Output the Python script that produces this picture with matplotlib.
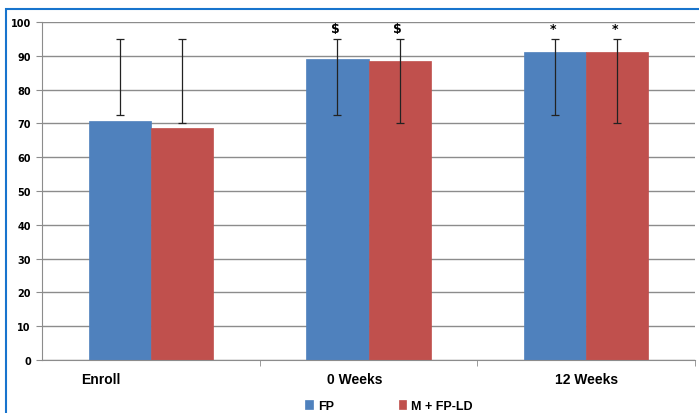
import matplotlib.pyplot as plt
import matplotlib.patches as mpatches
import matplotlib.transforms as mtransforms
import numpy as np

categories = ["Enroll", "0 Weeks", "12 Weeks"]
series_names = ["FP", "M + FP-LD"]
fp_values = [70.8, 89.2, 91.2]
mfp_values = [68.5, 88.5, 91.2]
# error bar ends (lower, upper)
fp_err_low = [72.5, 72.5, 72.5]
fp_err_high = [94.9, 94.9, 94.9]
mfp_err_low = [70.2, 70.2, 70.2]
mfp_err_high = [94.9, 94.9, 94.9]
fp_marks = ["", "$", "*"]
mfp_marks = ["", "$", "*"]

blue = "#4F81BD"
red = "#C0504D"
grid_col = "#8C8C8C"

fig = plt.figure(figsize=(6.99, 4.14), dpi=100)
ax = fig.add_axes([42/699, 1-361/414, 653/699, 338/414])

x = np.arange(len(categories))
w = 0.285

def draw(offset, vals, lo, hi, color, marks, label):
    lo = np.array(lo)
    hi = np.array(hi)
    ax.bar(x + offset, vals, w, color=color, edgecolor=color, linewidth=0.5,
           label=label, zorder=2)
    # error bars drawn from lower end to upper end
    ax.errorbar(x + offset, lo, yerr=[np.zeros_like(lo), hi - lo], fmt="none",
                ecolor="#222222", elinewidth=0.9, capsize=3, capthick=0.9, zorder=3)
    for xi, h, m in zip(x + offset, hi, marks):
        if m:
            ax.text(xi - 0.01, h + 3.3, m, ha="center", va="center",
                    fontsize=9, fontweight="bold", family="DejaVu Sans", zorder=4)

draw(-w/2, fp_values, fp_err_low, fp_err_high, blue, fp_marks, series_names[0])
draw(w/2, mfp_values, mfp_err_low, mfp_err_high, red, mfp_marks, series_names[1])

ax.set_xlim(-0.5, 2.5)
ax.set_ylim(0, 100)
ax.set_yticks(range(0, 101, 10))
ax.yaxis.grid(True, color=grid_col, linewidth=1)
ax.set_axisbelow(True)
for s in ["top", "right"]:
    ax.spines[s].set_visible(False)
for s in ["left", "bottom"]:
    ax.spines[s].set_color(grid_col)

# category labels, set a bit left of their groups like in the original
ax.set_xticks(x)
ax.set_xticklabels([])
label_shift = [-36, -10, 0]
base = mtransforms.blended_transform_factory(ax.transData, ax.transAxes)
for xi, cat, dx in zip(x, categories, label_shift):
    tr = base + mtransforms.ScaledTranslation(dx/72, -14/72, fig.dpi_scale_trans)
    ax.text(xi, 0, cat, transform=tr, ha="center", va="center", fontsize=10,
            fontweight="bold", family="Liberation Sans")
ax.set_xticks([0.5, 1.5, 2.5], minor=True)
ax.tick_params(axis="x", which="major", length=0)
ax.tick_params(axis="x", which="minor", length=4, color=grid_col, direction="out")
ax.tick_params(axis="y", length=4, color=grid_col, pad=4, labelsize=7)
for lab in ax.get_yticklabels():
    lab.set_fontweight("bold")
    lab.set_family("DejaVu Sans")

h, l = ax.get_legend_handles_labels()
leg = fig.legend(h, l, loc="center left", bbox_to_anchor=(294/699, 1-407/414), ncol=2,
                 frameon=False, handlelength=0.6, handleheight=0.7, handletextpad=0.4,
                 columnspacing=5.2, prop={"family": "Liberation Sans", "weight": "bold", "size": 9})

# blue frame around the picture
frame = mpatches.Rectangle((6/699, -0.1), 1.2, 1-10/414+0.1, transform=fig.transFigure,
                           fill=False, edgecolor="#1874CD", linewidth=1.5)
fig.patches.append(frame)

fig.savefig("out.png", dpi=100)
